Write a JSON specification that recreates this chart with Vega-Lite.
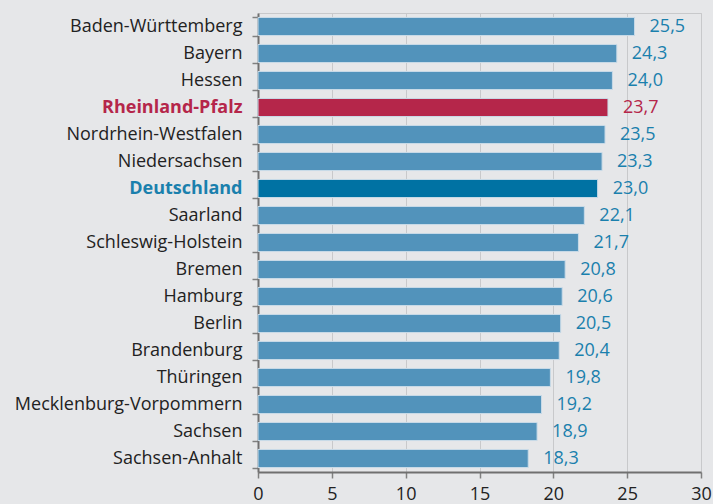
{
  "$schema": "https://vega.github.io/schema/vega-lite/v6.json",
  "width": 443,
  "height": 459,
  "autosize": {"type": "none"},
  "padding": {"left": 258, "top": 13, "right": 12, "bottom": 32},
  "background": "#e6e7e9",
  "config": {
    "view": {"stroke": "#c8c9cb", "strokeWidth": 1},
    "font": "Open Sans",
    "locale": {"number": {"decimal": ",", "thousands": ".", "grouping": [3], "currency": ["", " €"]}}
  },
  "resolve": {"scale": {"color": "independent"}},
  "data": {
    "values": [
      {"land": "Baden-Württemberg", "wert": 25.5, "typ": "n"},
      {"land": "Bayern", "wert": 24.3, "typ": "n"},
      {"land": "Hessen", "wert": 24.0, "typ": "n"},
      {"land": "Rheinland-Pfalz", "wert": 23.7, "typ": "rp"},
      {"land": "Nordrhein-Westfalen", "wert": 23.5, "typ": "n"},
      {"land": "Niedersachsen", "wert": 23.3, "typ": "n"},
      {"land": "Deutschland", "wert": 23.0, "typ": "de"},
      {"land": "Saarland", "wert": 22.1, "typ": "n"},
      {"land": "Schleswig-Holstein", "wert": 21.7, "typ": "n"},
      {"land": "Bremen", "wert": 20.8, "typ": "n"},
      {"land": "Hamburg", "wert": 20.6, "typ": "n"},
      {"land": "Berlin", "wert": 20.5, "typ": "n"},
      {"land": "Brandenburg", "wert": 20.4, "typ": "n"},
      {"land": "Thüringen", "wert": 19.8, "typ": "n"},
      {"land": "Mecklenburg-Vorpommern", "wert": 19.2, "typ": "n"},
      {"land": "Sachsen", "wert": 18.9, "typ": "n"},
      {"land": "Sachsen-Anhalt", "wert": 18.3, "typ": "n"}
    ]
  },
  "encoding": {
    "y": {
      "field": "land",
      "type": "nominal",
      "sort": null,
      "scale": {"paddingInner": 0.33, "paddingOuter": 0.165},
      "axis": {
        "title": null,
        "domainColor": "#707070",
        "domainWidth": 2,
        "tickColor": "#808080",
        "tickWidth": 1.5,
        "tickSize": 6,
        "tickBand": "extent",
        "labelFontSize": 18,
        "labelPadding": 10,
        "labelLimit": 300,
        "labelColor": {"condition": [
          {"test": "datum.value === 'Rheinland-Pfalz'", "value": "#b5264a"},
          {"test": "datum.value === 'Deutschland'", "value": "#1a80ad"}
        ], "value": "#222222"},
        "labelFontWeight": {"condition": {"test": "datum.value === 'Rheinland-Pfalz' || datum.value === 'Deutschland'", "value": "bold"}, "value": "normal"}
      }
    },
    "x": {
      "field": "wert",
      "type": "quantitative",
      "scale": {"domain": [0, 30], "nice": false},
      "axis": {
        "title": null,
        "values": [0, 5, 10, 15, 20, 25, 30],
        "format": "d",
        "gridColor": "#c8c9cb",
        "gridWidth": 1,
        "domainColor": "#707070",
        "domainWidth": 2,
        "tickColor": "#808080",
        "tickWidth": 1.5,
        "tickSize": 6,
        "labelFontSize": 18,
        "labelColor": "#222222",
        "labelPadding": 7,
        "labelFlush": false
      }
    }
  },
  "layer": [
    {
      "mark": {"type": "bar", "stroke": "#c9dbe8", "strokeWidth": 1},
      "encoding": {
        "color": {
          "field": "typ",
          "type": "nominal",
          "scale": {"domain": ["n", "rp", "de"], "range": ["#5293bb", "#b5264a", "#0072a3"]},
          "legend": null
        }
      }
    },
    {
      "mark": {"type": "text", "align": "left", "dx": 15, "fontSize": 18, "baseline": "middle"},
      "encoding": {
        "text": {"field": "wert", "type": "quantitative", "format": ".1f", "formatType": "number"},
        "color": {
          "field": "typ",
          "type": "nominal",
          "scale": {"domain": ["n", "rp", "de"], "range": ["#1a80ad", "#b5264a", "#1a80ad"]},
          "legend": null
        }
      }
    }
  ]
}
